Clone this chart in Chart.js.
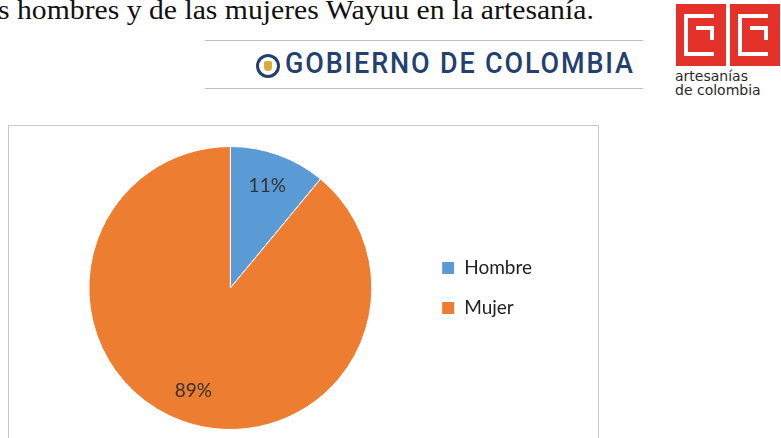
<!DOCTYPE html>
<html>
<head>
<meta charset="utf-8">
<script src="https://cdn.jsdelivr.net/npm/chart.js@4.4.1/dist/chart.umd.min.js"></script>
<style>
  html, body { margin: 0; padding: 0; background: #fff; width: 781px; height: 438px; overflow: hidden; }
  #titulo { position: absolute; left: -2px; top: -5px; font-family: "Liberation Serif", serif; font-size: 27px; color: #111; white-space: nowrap; transform: scaleX(1.1); transform-origin: left top; }
  .linea { position: absolute; left: 205px; width: 438px; height: 1px; background: #b8c2cc; }
  #gobierno { position: absolute; left: 285px; top: 46px; font-family: Roboto, sans-serif; font-weight: 500; font-size: 29px; letter-spacing: 2px; color: #24406e; white-space: nowrap; transform: scaleX(0.93); transform-origin: left top; }
  #escudo { position: absolute; left: 256px; top: 54px; width: 18px; height: 18px; border: 3px solid #24406e; border-radius: 50%; background: #fff; }
  #escudo div { position: absolute; left: 5px; top: 4px; width: 8px; height: 10px; background: #d9a93a; border-radius: 2px 2px 4px 4px; }
  .rojo { position: absolute; top: 4px; width: 50px; height: 62px; background: #e4322b; }
  .rojo div { position: absolute; border: 4px solid #fff; }
  #artes { position: absolute; left: 675px; top: 69px; font-family: "DejaVu Sans", sans-serif; font-size: 14px; line-height: 14px; color: #2a2a2a; }
  #caja { position: absolute; left: 8px; top: 125px; width: 589px; height: 330px; border: 1px solid #c9c9c9; }
  #myChart { position: absolute; left: 0; top: 0; }
</style>
</head>
<body>
<div id="titulo">s hombres y de las mujeres Wayuu en la artesanía.</div>
<div class="linea" style="top:40px"></div>
<div class="linea" style="top:88px"></div>
<div id="escudo"><div></div></div>
<div id="gobierno">GOBIERNO DE COLOMBIA</div>
<div class="rojo" style="left:676px"><div style="left:8px;top:10px;width:26px;height:34px;border-right:none"></div><div style="left:20px;top:22px;width:14px;height:10px;border-left:none;border-bottom:none"></div></div>
<div class="rojo" style="left:730px"><div style="left:8px;top:10px;width:26px;height:34px;border-right:none"></div><div style="left:20px;top:22px;width:14px;height:10px;border-left:none;border-bottom:none"></div></div>
<div id="artes">artesanías<br>de colombia</div>

<div id="caja"><canvas id="myChart" width="589" height="330"></canvas></div>

<script>
// Datos del gráfico
var categorias = ['Hombre', 'Mujer'];
var porcentajes = [11, 89];
var colores = ['#5b9bd5', '#ed7d31'];

// Etiquetas de porcentaje dentro de las porciones
var etiquetasPlugin = {
    id: 'etiquetas',
    afterDatasetsDraw: function(chart) {
        var ctx = chart.ctx;
        var meta = chart.getDatasetMeta(0);
        ctx.save();
        ctx.font = '19px Lato, "Open Sans", sans-serif';
        ctx.fillStyle = '#333333';
        ctx.textAlign = 'center';
        ctx.textBaseline = 'middle';
        meta.data.forEach(function(arc, i) {
            var mid = (arc.startAngle + arc.endAngle) / 2;
            var r = arc.outerRadius * 0.77;
            ctx.fillText(porcentajes[i] + '%', arc.x + Math.cos(mid) * r, arc.y + Math.sin(mid) * r);
        });
        ctx.restore();
    }
};

var ctx = document.getElementById('myChart').getContext('2d');
var myChart = new Chart(ctx, {
    type: 'pie',
    data: {
        labels: categorias,
        datasets: [{
            data: porcentajes,
            backgroundColor: colores,
            borderColor: '#ffffff',
            borderWidth: 1
        }]
    },
    options: {
        responsive: false,
        animation: false,
        layout: { padding: { left: 31, right: 56, top: 20, bottom: 26 } },
        plugins: {
            tooltip: { enabled: false },
            legend: {
                position: 'right',
                labels: {
                    boxWidth: 13,
                    boxHeight: 13,
                    padding: 21,
                    color: '#222222',
                    font: { family: 'Lato, "Open Sans", sans-serif', size: 19 }
                }
            }
        }
    },
    plugins: [etiquetasPlugin]
});
</script>
</body>
</html>
